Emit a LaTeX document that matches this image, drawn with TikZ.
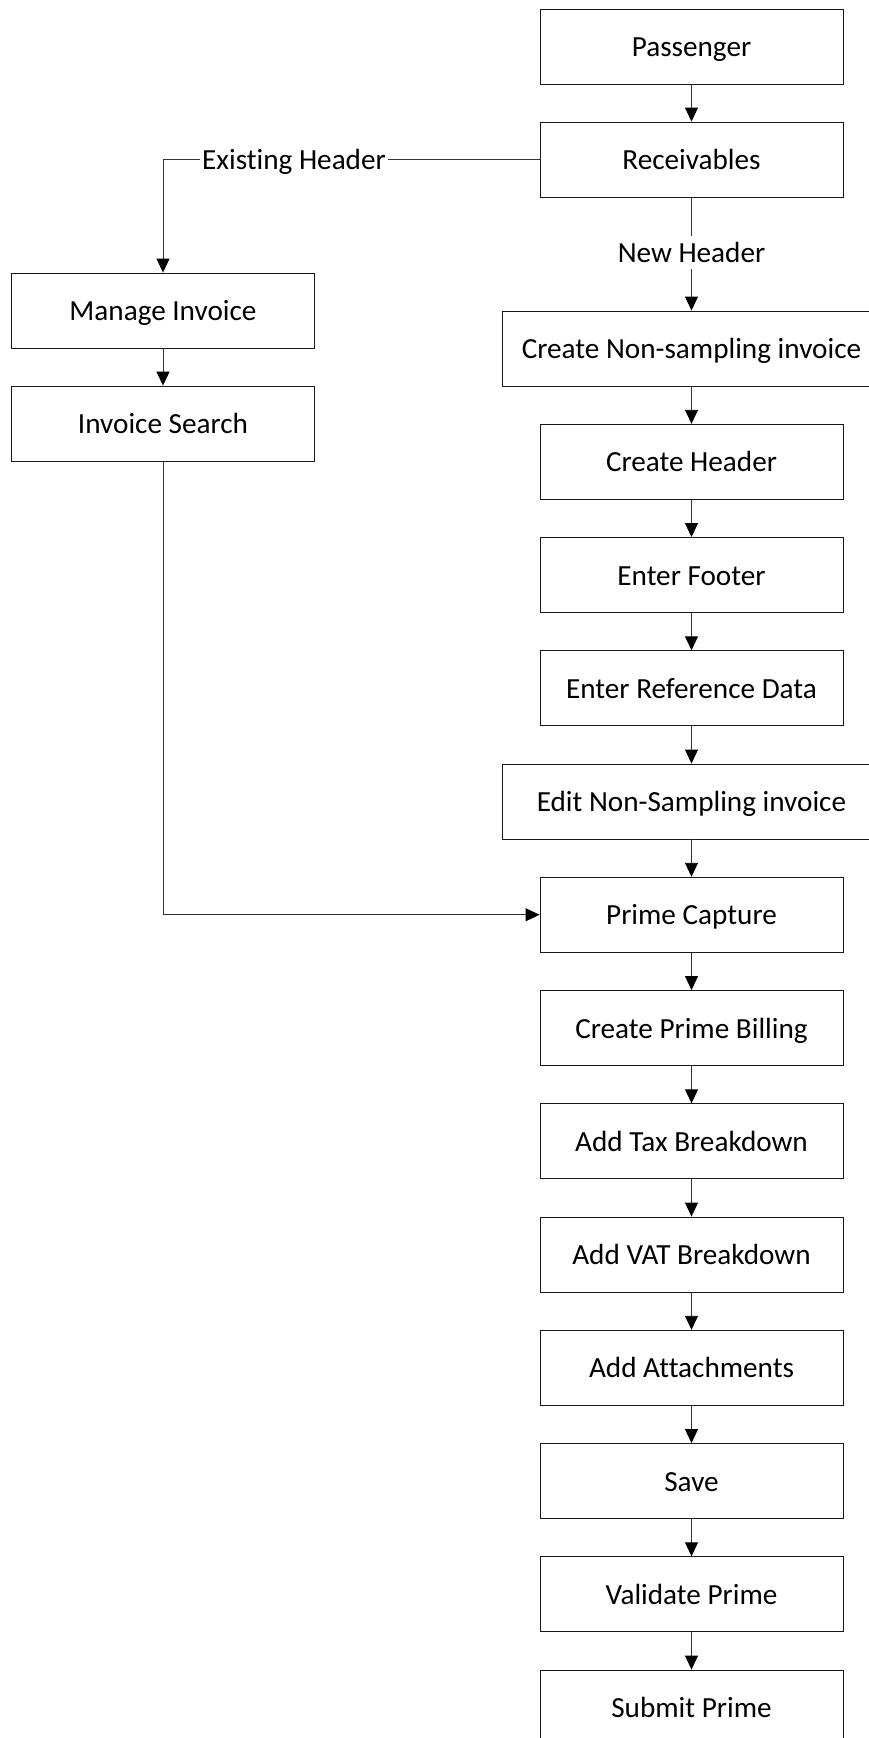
\documentclass[tikz,border=0pt]{standalone}
\usepackage{fontspec}
\setmainfont[Ligatures={NoCommon}]{Carlito}
\usetikzlibrary{arrows.meta}
\begin{document}
\begin{tikzpicture}[x=1pt,y=-1pt,
  txt/.style={font=\fontsize{29.2}{33}\selectfont,text height=20.4pt,text depth=0pt},
  box/.style={txt,draw=black!90,line width=0.9pt,minimum width=303pt,minimum height=75pt,inner sep=0pt},
  wide/.style={box,minimum width=379pt},
  conn/.style={draw=black!80,line width=0.9pt,-{Triangle[length=14pt,width=13pt,color=black]}},
  lbl/.style={txt,text height=19pt,fill=white,inner xsep=2pt,inner ysep=7pt}]
\useasboundingbox (0,0) rectangle (869,1738);
\clip (0,0) rectangle (869,1738);
\node[box] (pas) at (691.5,46.5) {Passenger};
\node[box] (rec) at (691.5,159.5) {Receivables};
\node[box] (man) at (163,310.5) {Manage Invoice};
\node[box] (sea) at (163,423.5) {Invoice Search};
\node[wide] (cns) at (691.5,348.5) {Create Non-sampling invoice};
\node[box] (ch) at (691.5,461.75) {Create Header};
\node[box] (ef) at (691.5,575) {Enter Footer};
\node[box] (rd) at (691.5,688.25) {Enter Reference Data};
\node[wide] (ens) at (691.5,801.5) {Edit Non-Sampling invoice};
\node[box] (pc) at (691.5,914.75) {Prime Capture};
\node[box] (cpb) at (691.5,1028) {Create Prime Billing};
\node[box] (tax) at (691.5,1141.25) {Add Tax Breakdown};
\node[box] (vat) at (691.5,1254.5) {Add VAT Breakdown};
\node[box] (att) at (691.5,1367.75) {Add Attachments};
\node[box] (sav) at (691.5,1481) {Save};
\node[box] (val) at (691.5,1594.25) {Validate Prime};
\node[box] (sub) at (691.5,1707.5) {Submit Prime};

\draw[conn] (pas) -- (rec);
\draw[conn] (rec) -- node[lbl,pos=0.49] {New Header} (cns);
\draw[conn] (rec.west) -| node[lbl,pos=0.326] {Existing Header} (man.north);
\draw[conn] (man) -- (sea);
\draw[conn] (sea.south) |- (pc.west);
\draw[conn] (cns) -- (ch);
\draw[conn] (ch) -- (ef);
\draw[conn] (ef) -- (rd);
\draw[conn] (rd) -- (ens);
\draw[conn] (ens) -- (pc);
\draw[conn] (pc) -- (cpb);
\draw[conn] (cpb) -- (tax);
\draw[conn] (tax) -- (vat);
\draw[conn] (vat) -- (att);
\draw[conn] (att) -- (sav);
\draw[conn] (sav) -- (val);
\draw[conn] (val) -- (sub);
\end{tikzpicture}
\end{document}
